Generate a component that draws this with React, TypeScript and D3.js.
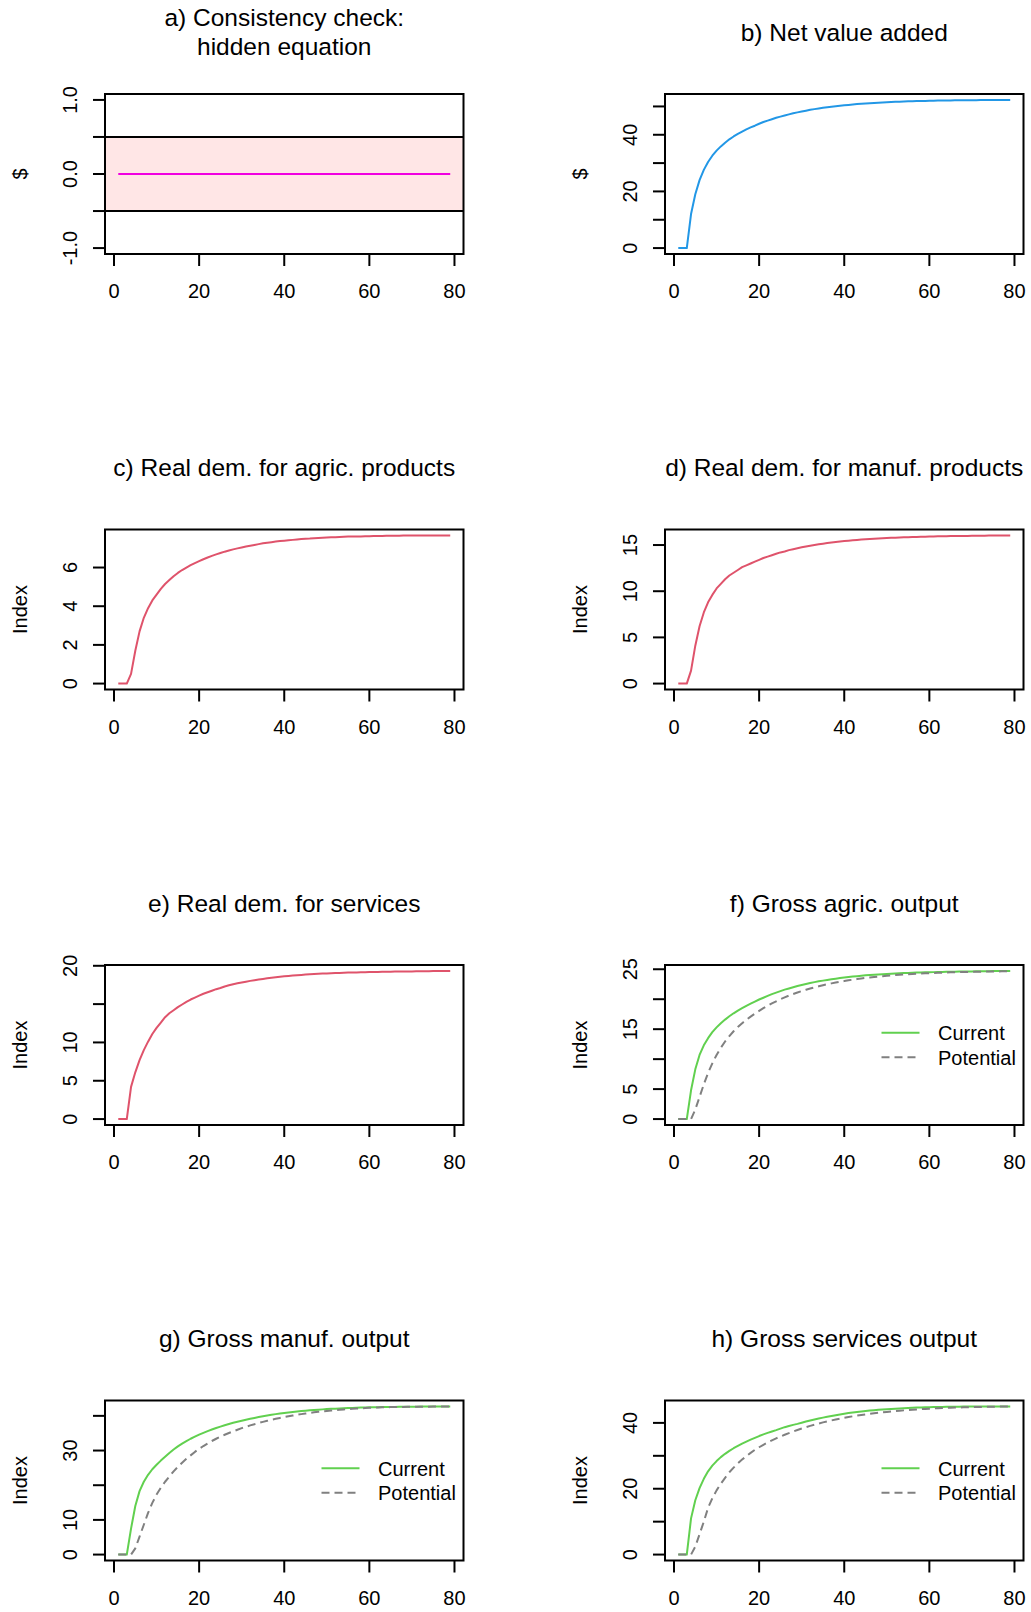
import React from 'react';
import * as d3 from 'd3';

// periods on the x axis
const periods = [
  1, 2, 3, 4, 5, 6, 7, 8, 9, 10, 11, 12, 13, 14, 15, 16, 17, 18, 19, 20,
  21, 22, 23, 24, 25, 26, 27, 28, 29, 30, 31, 32, 33, 34, 35, 36, 37, 38, 39, 40,
  41, 42, 43, 44, 45, 46, 47, 48, 49, 50, 51, 52, 53, 54, 55, 56, 57, 58, 59, 60,
  61, 62, 63, 64, 65, 66, 67, 68, 69, 70, 71, 72, 73, 74, 75, 76, 77, 78, 79,
];

const hiddenEquation = [
  0, 0, 0, 0, 0, 0, 0, 0, 0, 0, 0, 0, 0, 0, 0, 0, 0, 0, 0, 0,
  0, 0, 0, 0, 0, 0, 0, 0, 0, 0, 0, 0, 0, 0, 0, 0, 0, 0, 0, 0,
  0, 0, 0, 0, 0, 0, 0, 0, 0, 0, 0, 0, 0, 0, 0, 0, 0, 0, 0, 0,
  0, 0, 0, 0, 0, 0, 0, 0, 0, 0, 0, 0, 0, 0, 0, 0, 0, 0, 0,
];

const netValueAdded = [
  0, 0, 0, 12.0, 19.0, 24.0, 27.6, 30.4, 32.6, 34.4,
  35.9, 37.2, 38.4, 39.4, 40.3, 41.1, 41.9, 42.6, 43.2, 43.9,
  44.5, 45.0, 45.5, 46.0, 46.4, 46.8, 47.2, 47.6, 47.9, 48.2,
  48.5, 48.8, 49.05, 49.3, 49.5, 49.7, 49.9, 50.1, 50.25, 50.4,
  50.55, 50.7, 50.82, 50.94, 51.05, 51.15, 51.25, 51.34, 51.42, 51.5,
  51.57, 51.63, 51.69, 51.74, 51.79, 51.84, 51.88, 51.92, 51.96, 52.0,
  52.03, 52.06, 52.09, 52.11, 52.13, 52.15, 52.17, 52.19, 52.2, 52.21,
  52.22, 52.23, 52.24, 52.25, 52.26, 52.27, 52.28, 52.29, 52.3,
];

const agricDemand = [
  0, 0, 0, 0.5, 1.7, 2.7, 3.4, 3.9, 4.3, 4.6,
  4.9, 5.15, 5.35, 5.55, 5.72, 5.87, 6.0, 6.12, 6.23, 6.33,
  6.43, 6.52, 6.6, 6.68, 6.75, 6.82, 6.88, 6.94, 6.99, 7.04,
  7.09, 7.13, 7.17, 7.21, 7.25, 7.28, 7.31, 7.34, 7.37, 7.39,
  7.41, 7.43, 7.45, 7.47, 7.49, 7.5, 7.52, 7.53, 7.54, 7.55,
  7.56, 7.57, 7.58, 7.59, 7.6, 7.6, 7.61, 7.61, 7.62, 7.62,
  7.63, 7.63, 7.63, 7.64, 7.64, 7.64, 7.64, 7.65, 7.65, 7.65,
  7.65, 7.65, 7.65, 7.66, 7.66, 7.66, 7.66, 7.66, 7.66,
];

const manufDemand = [
  0, 0, 0, 1.4, 4.1, 6.2, 7.7, 8.8, 9.6, 10.3,
  10.8, 11.3, 11.7, 12.0, 12.3, 12.6, 12.8, 13.0, 13.2, 13.4,
  13.6, 13.75, 13.9, 14.05, 14.2, 14.3, 14.45, 14.55, 14.65, 14.75,
  14.85, 14.93, 15.0, 15.08, 15.15, 15.21, 15.27, 15.33, 15.38, 15.43,
  15.47, 15.51, 15.55, 15.59, 15.62, 15.65, 15.68, 15.71, 15.73, 15.75,
  15.78, 15.8, 15.82, 15.84, 15.85, 15.87, 15.88, 15.9, 15.91, 15.92,
  15.93, 15.94, 15.95, 15.96, 15.97, 15.98, 15.98, 15.99, 15.99, 16.0,
  16.0, 16.01, 16.01, 16.02, 16.02, 16.03, 16.03, 16.04, 16.04,
];

const servDemand = [
  0, 0, 0, 4.2, 6.1, 7.7, 9.0, 10.1, 11.1, 11.9,
  12.6, 13.3, 13.8, 14.2, 14.6, 14.95, 15.3, 15.6, 15.85, 16.1,
  16.35, 16.55, 16.75, 16.95, 17.1, 17.3, 17.45, 17.6, 17.72, 17.83,
  17.93, 18.03, 18.12, 18.2, 18.28, 18.36, 18.43, 18.5, 18.56, 18.62,
  18.67, 18.72, 18.77, 18.81, 18.85, 18.89, 18.92, 18.95, 18.98, 19.01,
  19.03, 19.05, 19.07, 19.09, 19.11, 19.13, 19.14, 19.16, 19.17, 19.18,
  19.19, 19.2, 19.21, 19.22, 19.23, 19.24, 19.25, 19.26, 19.27, 19.27,
  19.28, 19.29, 19.3, 19.3, 19.31, 19.32, 19.32, 19.33, 19.33,
];

const agricCurrent = [
  0, 0, 0, 4.8, 8.3, 10.7, 12.3, 13.5, 14.5, 15.3,
  16.0, 16.6, 17.15, 17.65, 18.1, 18.5, 18.9, 19.25, 19.6, 19.95,
  20.25, 20.55, 20.85, 21.1, 21.35, 21.6, 21.8, 22.0, 22.2, 22.38,
  22.55, 22.7, 22.85, 22.98, 23.1, 23.22, 23.33, 23.43, 23.53, 23.62,
  23.7, 23.78, 23.85, 23.92, 23.98, 24.04, 24.09, 24.14, 24.18, 24.22,
  24.26, 24.3, 24.33, 24.36, 24.39, 24.42, 24.44, 24.46, 24.48, 24.5,
  24.52, 24.54, 24.55, 24.57, 24.58, 24.6, 24.61, 24.62, 24.63, 24.64,
  24.65, 24.66, 24.67, 24.68, 24.69, 24.7, 24.7, 24.71, 24.72,
];

const agricPotential = [
  0, 0, 0, 0, 1.6, 3.7, 5.8, 7.7, 9.3, 10.7,
  11.9, 12.95, 13.85, 14.65, 15.35, 16.0, 16.55, 17.1, 17.6, 18.05,
  18.5, 18.9, 19.3, 19.65, 20.0, 20.3, 20.6, 20.87, 21.12, 21.36,
  21.58, 21.79, 21.98, 22.16, 22.33, 22.49, 22.64, 22.78, 22.91, 23.03,
  23.15, 23.26, 23.36, 23.46, 23.55, 23.63, 23.71, 23.78, 23.85, 23.91,
  23.97, 24.03, 24.08, 24.13, 24.17, 24.21, 24.25, 24.29, 24.32, 24.35,
  24.38, 24.41, 24.43, 24.46, 24.48, 24.5, 24.52, 24.53, 24.55, 24.57,
  24.58, 24.59, 24.61, 24.62, 24.63, 24.64, 24.65, 24.66, 24.67,
];

const manufCurrent = [
  0, 0, 0, 7.5, 14.0, 18.3, 21.0, 23.0, 24.6, 25.9,
  27.1, 28.2, 29.3, 30.3, 31.2, 32.0, 32.7, 33.4, 34.0, 34.6,
  35.1, 35.6, 36.05, 36.5, 36.9, 37.3, 37.65, 38.0, 38.3, 38.6,
  38.9, 39.15, 39.4, 39.65, 39.9, 40.1, 40.3, 40.5, 40.7, 40.85,
  41.0, 41.13, 41.26, 41.38, 41.5, 41.6, 41.7, 41.79, 41.87, 41.95,
  42.02, 42.08, 42.14, 42.2, 42.25, 42.3, 42.34, 42.38, 42.42, 42.45,
  42.48, 42.51, 42.53, 42.55, 42.57, 42.59, 42.61, 42.62, 42.64, 42.65,
  42.66, 42.67, 42.68, 42.69, 42.7, 42.7, 42.71, 42.72, 42.72,
];

const manufPotential = [
  0, 0, 0, 0, 1.8, 5.2, 8.6, 12.0, 14.9, 17.3,
  19.3, 21.0, 22.5, 24.0, 25.3, 26.5, 27.6, 28.6, 29.6, 30.5,
  31.3, 32.05, 32.75, 33.4, 34.0, 34.55, 35.05, 35.55, 36.0, 36.45,
  36.85, 37.25, 37.6, 37.95, 38.27, 38.58, 38.87, 39.14, 39.4, 39.65,
  39.88, 40.1, 40.3, 40.5, 40.68, 40.85, 41.01, 41.16, 41.3, 41.43,
  41.55, 41.66, 41.76, 41.86, 41.95, 42.03, 42.11, 42.18, 42.25, 42.31,
  42.36, 42.41, 42.45, 42.49, 42.52, 42.55, 42.57, 42.59, 42.61, 42.62,
  42.63, 42.64, 42.65, 42.66, 42.67, 42.68, 42.69, 42.7, 42.7,
];

const servCurrent = [
  0, 0, 0, 11.0, 16.5, 20.2, 23.0, 25.3, 27.0, 28.4,
  29.6, 30.6, 31.5, 32.3, 33.0, 33.7, 34.3, 34.9, 35.45, 36.0,
  36.5, 36.95, 37.4, 37.8, 38.25, 38.7, 39.05, 39.4, 39.7, 40.05,
  40.4, 40.73, 41.04, 41.33, 41.6, 41.85, 42.1, 42.35, 42.57, 42.78,
  42.97, 43.15, 43.32, 43.47, 43.61, 43.74, 43.86, 43.97, 44.07, 44.16,
  44.25, 44.33, 44.4, 44.47, 44.53, 44.59, 44.64, 44.69, 44.73, 44.77,
  44.8, 44.83, 44.86, 44.88, 44.9, 44.92, 44.93, 44.94, 44.95, 44.96,
  44.97, 44.97, 44.98, 44.98, 44.99, 44.99, 45.0, 45.0, 45.0,
];

const servPotential = [
  0, 0, 0, 0, 2.4, 6.2, 10.0, 14.2, 17.1, 19.5,
  21.5, 23.3, 25.0, 26.4, 27.7, 28.85, 29.9, 30.9, 31.8, 32.6,
  33.35, 34.05, 34.7, 35.3, 35.85, 36.4, 36.9, 37.4, 37.85, 38.3,
  38.7, 39.1, 39.45, 39.8, 40.15, 40.45, 40.75, 41.03, 41.3, 41.55,
  41.78, 42.0, 42.2, 42.4, 42.58, 42.75, 42.91, 43.06, 43.2, 43.33,
  43.46, 43.58, 43.69, 43.8, 43.9, 44.0, 44.09, 44.17, 44.25, 44.32,
  44.39, 44.45, 44.51, 44.56, 44.61, 44.65, 44.69, 44.73, 44.76, 44.79,
  44.82, 44.85, 44.87, 44.89, 44.91, 44.93, 44.95, 44.96, 44.97,
];

const xTicks = [0, 20, 40, 60, 80];
const legendLabels = ['Current', 'Potential'];

// y ticks and which of them R printed a label for
const yTicksA = [-1, -0.5, 0, 0.5, 1];
const yLabelsA = ['-1.0', '', '0.0', '', '1.0'];
const yTicksB = [0, 10, 20, 30, 40, 50];
const yLabelsB = ['0', '', '20', '', '40', ''];
const yTicksC = [0, 2, 4, 6];
const yLabelsC = ['0', '2', '4', '6'];
const yTicksD = [0, 5, 10, 15];
const yLabelsD = ['0', '5', '10', '15'];
const yTicksE = [0, 5, 10, 15, 20];
const yLabelsE = ['0', '5', '10', '', '20'];
const yTicksF = [0, 5, 10, 15, 20, 25];
const yLabelsF = ['0', '5', '', '15', '', '25'];
const yTicksG = [0, 10, 20, 30, 40];
const yLabelsG = ['0', '10', '', '30', ''];
const yTicksH = [0, 10, 20, 30, 40];
const yLabelsH = ['0', '', '20', '', '40'];

const FONT = '"Liberation Sans", Arial, sans-serif';
const RED = '#DF536B';
const GREEN = '#61D04F';
const GREY = '#808080';

const panels = [
  { title: ['a) Consistency check:', 'hidden equation'], ylab: '$', ylim: [-1, 1], band: [-0.5, 0.5],
    series: [{ values: hiddenEquation, color: '#F000E0' }], yTicks: yTicksA, yLabels: yLabelsA },
  { title: ['b) Net value added'], ylab: '$',
    series: [{ values: netValueAdded, color: '#2297E6' }], yTicks: yTicksB, yLabels: yLabelsB },
  { title: ['c) Real dem. for agric. products'], ylab: 'Index',
    series: [{ values: agricDemand, color: RED }], yTicks: yTicksC, yLabels: yLabelsC },
  { title: ['d) Real dem. for manuf. products'], ylab: 'Index',
    series: [{ values: manufDemand, color: RED }], yTicks: yTicksD, yLabels: yLabelsD },
  { title: ['e) Real dem. for services'], ylab: 'Index',
    series: [{ values: servDemand, color: RED }], yTicks: yTicksE, yLabels: yLabelsE },
  { title: ['f) Gross agric. output'], ylab: 'Index', legend: true,
    series: [{ values: agricCurrent, color: GREEN }, { values: agricPotential, color: GREY, dash: true }],
    yTicks: yTicksF, yLabels: yLabelsF },
  { title: ['g) Gross manuf. output'], ylab: 'Index', legend: true,
    series: [{ values: manufCurrent, color: GREEN }, { values: manufPotential, color: GREY, dash: true }],
    yTicks: yTicksG, yLabels: yLabelsG },
  { title: ['h) Gross services output'], ylab: 'Index', legend: true,
    series: [{ values: servCurrent, color: GREEN }, { values: servPotential, color: GREY, dash: true }],
    yTicks: yTicksH, yLabels: yLabelsH },
];

const W = 1031;
const H = 1612;
const boxLefts = [105, 665];
const boxW = 358.5;
const boxH = 160;
const firstTop = 94;
const rowStep = 435.5;

function Panel({ p, idx }: { p: any; idx: number }) {
  const left = boxLefts[idx % 2];
  const right = left + boxW;
  const top = firstTop + Math.floor(idx / 2) * rowStep;
  const bottom = top + boxH;

  // R style axes: data range padded by 4% on both sides
  const xr = d3.extent(periods) as [number, number];
  const xpad = (xr[1] - xr[0]) * 0.04;
  const x = d3.scaleLinear().domain([xr[0] - xpad, xr[1] + xpad]).range([left, right]);

  const all = p.ylim ? p.ylim : d3.extent(p.series.flatMap((s: any) => s.values)) as [number, number];
  const ypad = (all[1] - all[0]) * 0.04;
  const y = d3.scaleLinear().domain([all[0] - ypad, all[1] + ypad]).range([bottom, top]);

  const line = d3.line<number>().x((d, i) => x(periods[i])).y((d) => y(d));

  const midX = (left + right) / 2;
  const midY = (top + bottom) / 2;
  const titleLine = 28.3;
  const titleBase = top - 53.5 - ((p.title.length - 1) * titleLine) / 2;

  return (
    <g>
      {p.title.map((t: string, i: number) => (
        <text key={t} x={midX} y={titleBase + i * titleLine} textAnchor="middle" fontSize={24.5} fontFamily={FONT}>
          {t}
        </text>
      ))}

      {p.band && (
        <g>
          <rect x={left} width={right - left} y={y(p.band[1])} height={y(p.band[0]) - y(p.band[1])} fill="#FFE6E6" />
          {p.band.map((b: number) => (
            <line key={b} x1={left} x2={right} y1={y(b)} y2={y(b)} stroke="#000" strokeWidth={2} />
          ))}
        </g>
      )}

      {p.series.map((s: any, i: number) => (
        <path key={i} d={line(s.values) || ''} fill="none" stroke={s.color} strokeWidth={2}
          strokeDasharray={s.dash ? '8,5' : undefined} strokeLinejoin="round" />
      ))}

      <rect x={left} y={top} width={right - left} height={bottom - top} fill="none" stroke="#000" strokeWidth={2} />

      {xTicks.map((t) => (
        <g key={t}>
          <line x1={x(t)} x2={x(t)} y1={bottom} y2={bottom + 12} stroke="#000" strokeWidth={2} />
          <text x={x(t)} y={bottom + 44} textAnchor="middle" fontSize={20} fontFamily={FONT}>{t}</text>
        </g>
      ))}

      {p.yTicks.map((t: number, i: number) => (
        <g key={t}>
          <line x1={left - 12} x2={left} y1={y(t)} y2={y(t)} stroke="#000" strokeWidth={2} />
          {p.yLabels[i] && (
            <text transform={`translate(${left - 28},${y(t)}) rotate(-90)`} textAnchor="middle"
              fontSize={20} fontFamily={FONT}>
              {p.yLabels[i]}
            </text>
          )}
        </g>
      ))}

      <text transform={`translate(${left - 78},${midY}) rotate(-90)`} textAnchor="middle" fontSize={20} fontFamily={FONT}>
        {p.ylab}
      </text>

      {p.legend &&
        legendLabels.map((lab, i) => {
          const ly = midY + (i - 0.5) * 24.6;
          return (
            <g key={lab}>
              <line x1={right - 142} x2={right - 104} y1={ly} y2={ly} stroke={p.series[i].color} strokeWidth={2}
                strokeDasharray={p.series[i].dash ? '8,5' : undefined} />
              <text x={right - 85.5} y={ly + 7.5} fontSize={20} fontFamily={FONT}>{lab}</text>
            </g>
          );
        })}
    </g>
  );
}

export default function App() {
  return (
    <div style={{ position: 'absolute', left: 0, top: 0 }}>
      <svg width={W} height={H} style={{ display: 'block', background: '#fff' }}>
        {panels.map((p, i) => (
          <Panel key={i} p={p} idx={i} />
        ))}
      </svg>
    </div>
  );
}
